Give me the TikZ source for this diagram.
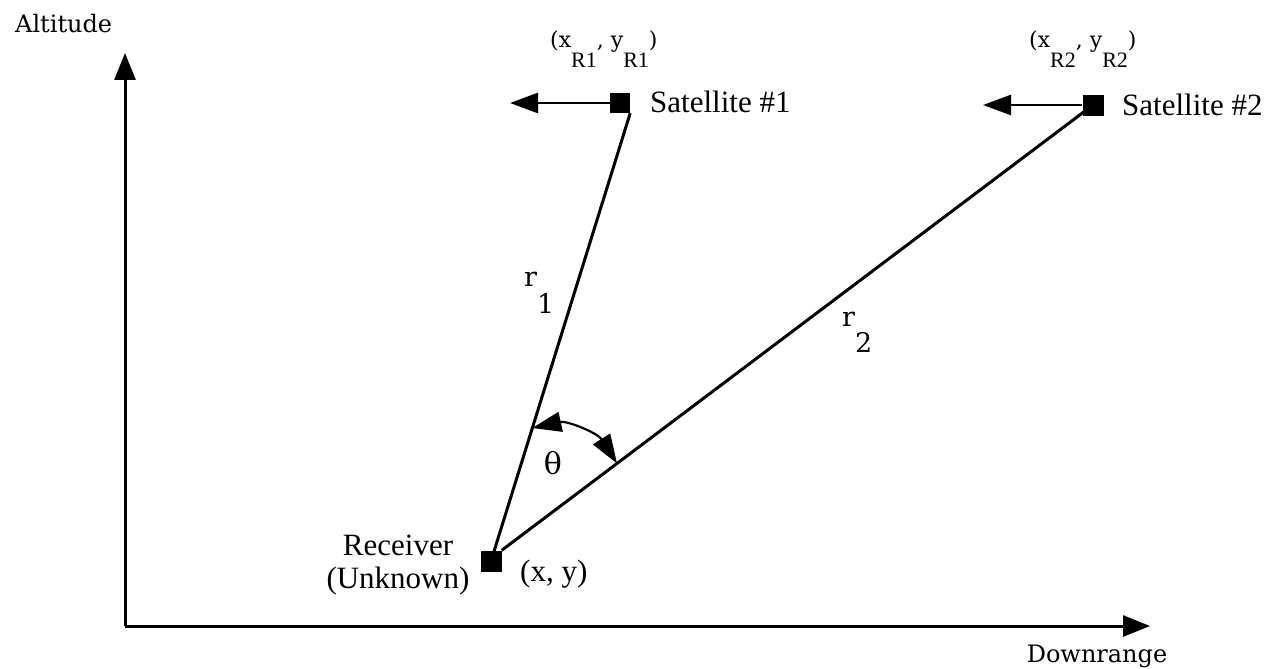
\documentclass[tikz,border=0pt]{standalone}
\usepackage{fontspec}
\setmainfont{Liberation Serif}
\newfontfamily\labf{DejaVu Serif}
\usetikzlibrary{arrows.meta}
\begin{document}
\begin{tikzpicture}[x=1pt,y=-1pt,
  bigarrow/.style={line width=3pt,-{Triangle[length=27pt,width=21pt]}},
  satarrow/.style={line width=2.8pt,-{Triangle[length=28pt,width=20pt]}},
  ray/.style={line width=3pt},
  sq/.style={fill=black,draw=none,minimum size=20pt,inner sep=0pt},
  tlab/.style={inner sep=0pt,font=\fontsize{31pt}{33pt}\selectfont},
  mlab/.style={inner sep=0pt,font=\labf\fontsize{24pt}{28pt}\selectfont},
  rlabs/.style={inner sep=0pt,font=\labf\fontsize{27pt}{30pt}\selectfont},
  clab/.style={inner sep=0pt,font=\labf\fontsize{22pt}{26pt}\selectfont}]
\useasboundingbox[fill=white] (0,0) rectangle (1264,669);
% axes
\coordinate (O) at (125,626);
\coordinate (ytip) at (125,53);
\coordinate (xtip) at (1150,626);
\draw[bigarrow] (O) -- (ytip);
\draw[bigarrow] (O) -- (xtip);
\node[mlab,anchor=base west] (alt) at (15,33) {Altitude};
\node[mlab,anchor=base] (down) at (1097,662) {Downrange};
% nodes
\node[sq] (sat1) at (620,103) {};
\node[sq,minimum size=21pt] (sat2) at (1093,105) {};
\node[sq,minimum size=21pt] (rcv) at (491,561) {};
% rays
\draw[ray] (rcv.center) -- (sat1.south east) coordinate[pos=0.297] (t1);
\draw[ray] (rcv.north east) -- (sat2.center) coordinate[pos=0.195] (t2);
\node[sq] at (sat1) {};
\node[sq,minimum size=21pt] at (sat2) {};
\node[sq,minimum size=21pt] at (rcv) {};
% satellite motion arrows
\coordinate (a1) at (510,103);
\coordinate (a2) at (983,105);
\draw[satarrow] (sat1.west) -- (a1);
\draw[satarrow] (sat2.west) -- (a2);
% theta
\draw[line width=2.2pt,{Triangle[length=29pt,width=20pt]}-{Triangle[length=29pt,width=20pt]}] (t1) to[bend left=35] (t2);
\node[mlab,font=\labf\fontsize{30pt}{32pt}\selectfont] (th) at (553,463) {θ};
% labels
\node[tlab,anchor=base west] (s1lab) at (650,113) {Satellite \#1};
\node[tlab,anchor=base west] (s2lab) at (1122,115) {Satellite \#2};
\node[tlab,align=center] (rlab) at (398,565) {Receiver\\(Unknown)};
\node[tlab,anchor=base west] (xy) at (520,581) {(x, y)};
\node[rlabs,anchor=base west] (r1) at (524,286) {r\raisebox{-27pt}{1}};
\node[rlabs,anchor=base west] (r2) at (842,326) {r\raisebox{-26pt}{2}};
\node[clab,anchor=base west] (c1) at (550,48) {(x\raisebox{-20pt}{\fontspec{Liberation Serif}\fontsize{22pt}{24pt}\selectfont R1}, y\raisebox{-20pt}{\fontspec{Liberation Serif}\fontsize{22pt}{24pt}\selectfont R1})};
\node[clab,anchor=base west] (c2) at (1029,48) {(x\raisebox{-20pt}{\fontspec{Liberation Serif}\fontsize{22pt}{24pt}\selectfont R2}, y\raisebox{-20pt}{\fontspec{Liberation Serif}\fontsize{22pt}{24pt}\selectfont R2})};
\end{tikzpicture}
\end{document}
